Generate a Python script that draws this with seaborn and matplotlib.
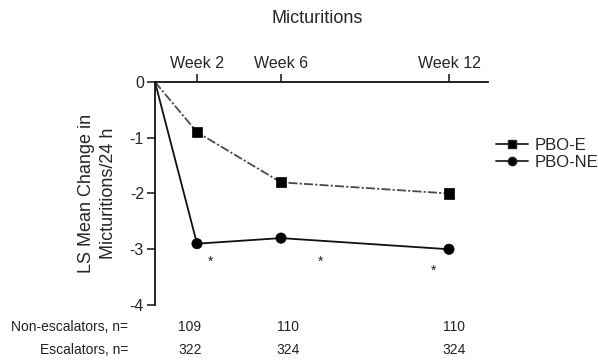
import matplotlib
matplotlib.use("Agg")
import matplotlib.pyplot as plt
import matplotlib.transforms as mtransforms
from matplotlib.lines import Line2D
import pandas as pd
import seaborn as sns

# Data
weeks = [0, 2, 6, 12]
week_labels = ["Week 2", "Week 6", "Week 12"]
pbo_e = [0.0, -0.9, -1.8, -2.0]
pbo_ne = [0.0, -2.9, -2.8, -3.0]
non_escalators_n = [109, 110, 110]
escalators_n = [322, 324, 324]

# Horizontal axis layout: visits are spaced unevenly on the axis
week_axis_pos = {0: 0.0, 2: 1.0, 6: 3.0, 12: 7.0}

sns.set_style("ticks")
plt.rcParams["font.family"] = ["Liberation Sans", "DejaVu Sans"]

rows = []
for grp, vals in (("PBO-E", pbo_e), ("PBO-NE", pbo_ne)):
    for w, v in zip(weeks, vals):
        rows.append({"group": grp, "week": w, "pos": week_axis_pos[w], "value": v})
df = pd.DataFrame(rows)

fig = plt.figure(figsize=(5.98, 3.61), dpi=100)
ax = fig.add_axes([0.2592, 0.1551, 0.5569, 0.6178])

palette = {"PBO-E": "#4a4a4a", "PBO-NE": "#111111"}
dashes = {"PBO-E": (5, 1.2, 1.2, 1.2), "PBO-NE": ""}
sns.lineplot(data=df, x="pos", y="value", hue="group", style="group",
             palette=palette, dashes=dashes, linewidth=1.3, legend=False,
             ax=ax, estimator=None, sort=False)
marked = df[df["week"] > 0]
sns.scatterplot(data=marked, x="pos", y="value", hue="group", style="group",
                palette={"PBO-E": "black", "PBO-NE": "black"},
                markers={"PBO-E": "s", "PBO-NE": "o"}, s=55,
                edgecolor="black", linewidth=0.5, legend=False, ax=ax, zorder=5)

ax.set_xlim(0, 7.93)
ax.set_ylim(-4, 0)
ax.set_yticks([0, -1, -2, -3, -4])
ax.set_yticklabels(["0", "-1", "-2", "-3", "-4"])
ax.set_xticks([week_axis_pos[w] for w in weeks[1:]])
ax.set_xticklabels(week_labels)
ax.xaxis.tick_top()
ax.tick_params(axis="x", direction="out", length=6, width=1.2, labelsize=11.5, pad=2)
ax.tick_params(axis="y", direction="out", length=6, width=1.2, labelsize=11.5, pad=2)
ax.set_xlabel("")
ax.set_ylabel("LS Mean Change in\nMicturitions/24 h", fontsize=13, labelpad=9,
              linespacing=1.4)
for side in ("right", "bottom"):
    ax.spines[side].set_visible(False)
for side in ("left", "top"):
    ax.spines[side].set_linewidth(1.3)
    ax.spines[side].set_color("#111111")

# significance asterisks
star_pos = [(1.31, -3.22), (3.95, -3.22), (6.64, -3.38)]
for sx, sy in star_pos:
    ax.text(sx, sy, "*", ha="center", va="center", fontsize=10, color="#222222")

fig.text(0.530, 0.950, "Micturitions", ha="center", va="center", fontsize=13)

# legend
handles = [
    Line2D([], [], color="#222222", lw=1.3, marker="s", markersize=6, markerfacecolor="black"),
    Line2D([], [], color="#222222", lw=1.3, marker="o", markersize=6, markerfacecolor="black"),
]
fig.legend(handles, ["PBO-E", "PBO-NE"], loc="center left",
           bbox_to_anchor=(0.805, 0.573), frameon=False, fontsize=12,
           handlelength=1.9, handletextpad=0.4, labelspacing=0.1)

# patient counts below the chart
trans = mtransforms.blended_transform_factory(ax.transData, fig.transFigure)
table_x = [0.83, 3.17, 7.12]
row_y = [0.094, 0.030]
fig.text(0.214, row_y[0], "Non-escalators, n=", ha="right", va="center", fontsize=10, color="#222222")
fig.text(0.214, row_y[1], "Escalators, n=", ha="right", va="center", fontsize=10, color="#222222")
for x, a, b in zip(table_x, non_escalators_n, escalators_n):
    ax.text(x, row_y[0], str(a), transform=trans, ha="center", va="center", fontsize=10, color="#222222")
    ax.text(x, row_y[1], str(b), transform=trans, ha="center", va="center", fontsize=10, color="#222222")

fig.savefig("out.png", dpi=100)
